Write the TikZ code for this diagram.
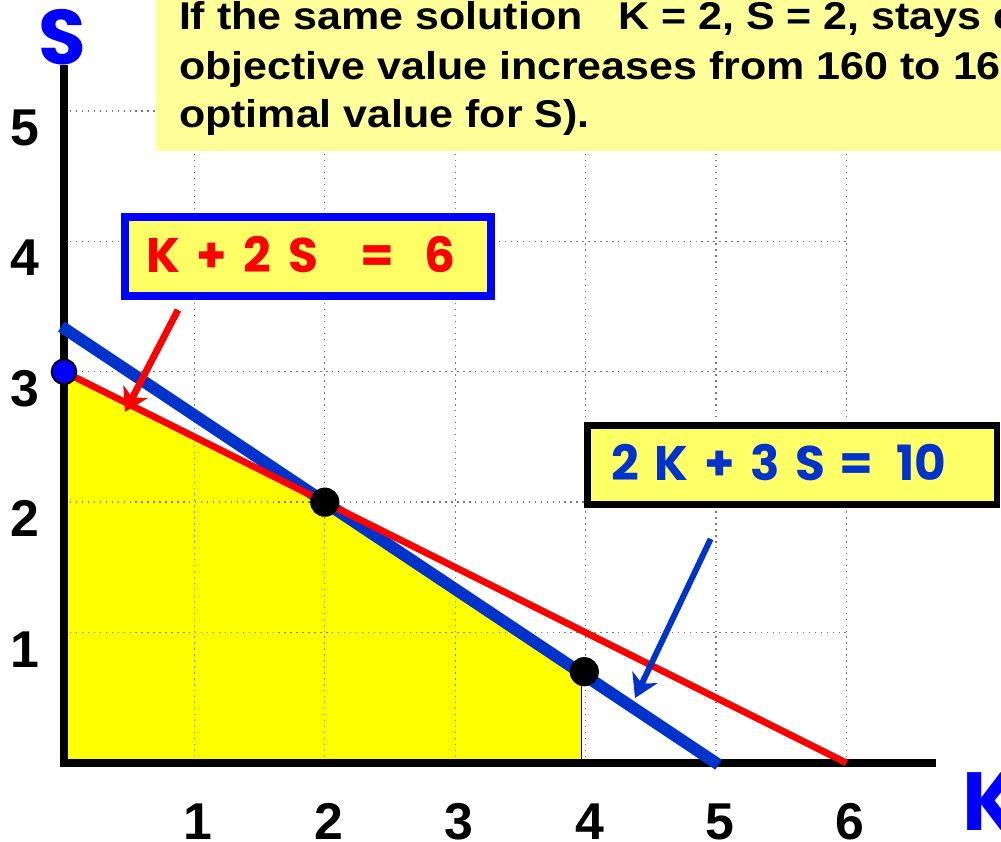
\documentclass[tikz,border=0pt]{standalone}
\usepackage{fontspec}
\setmainfont{Liberation Sans}
\newfontfamily\hdrfont[FakeStretch=1.11]{Liberation Sans}
\newfontfamily\comicfont{Poppins}
\usetikzlibrary{arrows.meta}
\definecolor{lineblue}{RGB}{0,51,204}
\definecolor{pureblue}{RGB}{0,0,255}
\definecolor{feas}{RGB}{255,255,0}
\definecolor{notebg}{RGB}{255,255,153}
\definecolor{eqbg}{RGB}{255,255,102}
\definecolor{gridgray}{RGB}{120,120,120}
\begin{document}
\begin{tikzpicture}[x=1cm,y=1cm,
  gridline/.style={gridgray, densely dotted, line width=0.3pt},
  axisline/.style={line width=1.75pt, line join=miter},
  ticklab/.style={font=\fontsize{11.3}{13}\selectfont\bfseries, inner sep=0pt, anchor=base},
  notetext/.style={font=\hdrfont\fontsize{8.45}{10.7}\selectfont\bfseries, inner sep=0pt, anchor=base west},
  eqtext/.style={font=\comicfont\fontsize{10.6}{12}\selectfont\bfseries, inner sep=0pt, anchor=base west},
  axlab/.style={font=\comicfont\bfseries, text=pureblue, inner sep=0pt},
  eqbox/.style={draw, fill=eqbg, minimum height=0.606cm, inner sep=0pt},
  dot/.style={circle, draw=black, line width=0.4pt, inner sep=0pt, minimum size=0.21cm},
]
\useasboundingbox (-0.4908,-0.6058) rectangle (7.1856,5.8512);

% feasible region
\fill[feas] (0,0) -- (0,3) -- (2,2) -- (3.97,0.685) -- (3.97,0) -- cycle;
\draw[line width=0.35pt] (3.97,0.685) -- (3.97,0);

% grid
\draw[gridline] (0,0) grid (6,5);

% note box
\fill[notebg] (0.7055,4.6956) rectangle (7.4,6.2);
\node[notetext] (l1) at (0.875,5.623) {If the same solution\ \ \ K = 2, S = 2, stays optimal};
\node[notetext] (l2) at (0.875,5.240) {objective value increases from 160 to 162};
\node[notetext] (l3) at (0.875,4.870) {optimal value for S).};

% axes
\draw[axisline] (0,5.353) -- (0,-0.03);
\draw[axisline] (-0.03,0) -- (6.687,0);
\node[axlab, font=\comicfont\bfseries\fontsize{16.9}{18}\selectfont, anchor=base] (Slab) at (-0.01,5.36) {S};
\node[axlab, font=\comicfont\bfseries\fontsize{18}{20}\selectfont, anchor=base west] (Klab) at (6.88,-0.514) {K};

% tick labels
\foreach \k in {1,...,6} \node[ticklab] (kx\k) at (\k+0.03,-0.590) {\k};
\foreach \s in {1,...,5} \node[ticklab] (sy\s) at (-0.30,\s-0.265) {\s};

% constraint lines
\coordinate (b1) at (-0.02,3.347);
\coordinate (b2) at (5.02,-0.013);
\draw[lineblue, line width=2.6pt] (b1) -- (b2);
\coordinate (r1) at (0,3);
\coordinate (r2) at (6,0);
\draw[red, line width=1.5pt] (r1) -- (r2);

% label boxes
\node[eqbox, draw=pureblue, line width=1.75pt, minimum width=2.806cm] (box1) at (1.871,3.884) {};
\node[eqtext, text=red] (eq1) at (0.625,3.758) {\makebox[2.37cm][s]{K\hspace{0pt plus 1fil}+\hspace{0pt plus 1fil}2\hspace{0pt plus 1fil}S\hspace{0pt plus 2.6fil}=\hspace{0pt plus 1.8fil}6}};
\node[eqbox, draw=black, line width=1.5pt, minimum width=3.14cm] (box2) at (5.585,2.285) {};
\node[eqtext, text=lineblue] (eq2) at (4.19,2.163) {\makebox[2.57cm][s]{2\hspace{0pt plus 1fil}K\hspace{0pt plus 1fil}+\hspace{0pt plus 1fil}3\hspace{0pt plus 1fil}S\hspace{0pt plus 0.85fil}=\hspace{0pt plus 1.5fil}10}};

% arrows
\coordinate (ra) at (0.874,3.474);
\coordinate (rt) at (0.468,2.692);
\draw[red, line width=1.5pt, -{Stealth[length=5pt,width=6pt,inset=1.5pt]}] (ra) -- (rt);
\coordinate (ba) at (4.959,1.718);
\coordinate (bt) at (4.379,0.498);
\draw[lineblue, line width=1.3pt, -{Stealth[length=5pt,width=6pt,inset=1.5pt]}] (ba) -- (bt);

% corner points
\node[dot, fill=pureblue, minimum size=0.19cm] (p03) at (0,3) {};
\node[dot, fill=black] (p22) at (2,2) {};
\node[dot, fill=black] (p4) at (3.99,0.70) {};
\end{tikzpicture}
\end{document}
